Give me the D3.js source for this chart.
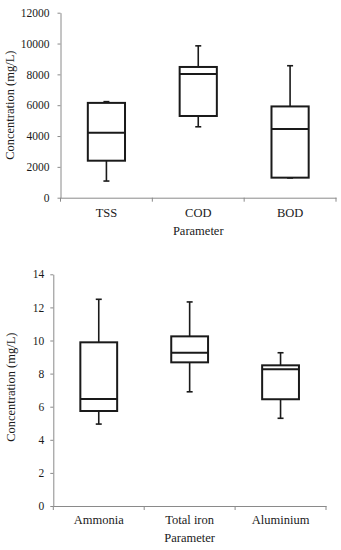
<!DOCTYPE html>
<html>
<head>
<meta charset="utf-8">
<script src="https://cdn.jsdelivr.net/npm/d3@7"></script>
<style>
  html, body { margin: 0; padding: 0; background: #fff; }
  svg text { font-family: "Liberation Serif", "Times New Roman", serif; fill: #1a1a1a; }
</style>
</head>
<body>
<svg id="chart" width="341" height="550"></svg>
<script>
// ---- Top chart data ----
const topCategories = ["TSS", "COD", "BOD"];
const topMin    = [1080, 4600, 1280];
const topQ1     = [2400, 5300, 1300];
const topMedian = [4220, 8020, 4450];
const topQ3     = [6150, 8480, 5920];
const topMax    = [6230, 9850, 8560];
const topTicks  = [0, 2000, 4000, 6000, 8000, 10000, 12000];

// ---- Bottom chart data ----
const botCategories = ["Ammonia", "Total iron", "Aluminium"];
const botMin    = [4.95, 6.9, 5.3];
const botQ1     = [5.74, 8.68, 6.45];
const botMedian = [6.47, 9.26, 8.26];
const botQ3     = [9.89, 10.25, 8.5];
const botMax    = [12.49, 12.33, 9.26];
const botTicks  = [0, 2, 4, 6, 8, 10, 12, 14];

const yLabel = "Concentration (mg/L)";
const xLabel = "Parameter";

const svg = d3.select("#chart");

function drawPanel(cfg) {
  const g = svg.append("g");
  const x = d3.scaleBand().domain(cfg.categories).range([cfg.x0, cfg.x1]).padding(0);
  const y = d3.scaleLinear().domain([cfg.ticks[0], cfg.ticks[cfg.ticks.length - 1]]).range([cfg.y0, cfg.y1]);

  // Y axis
  const yAxis = d3.axisLeft(y).tickValues(cfg.ticks).tickFormat(d3.format("d"))
    .tickSize(3).tickSizeOuter(0).tickPadding(cfg.tickPad);
  const ya = g.append("g").attr("transform", `translate(${cfg.x0},0)`).call(yAxis);
  ya.select(".domain").attr("stroke", "#8a8a8a");
  ya.selectAll(".tick line").attr("stroke", "#8a8a8a");
  ya.selectAll(".tick text").style("font-size", "11.5px").attr("fill", "#1a1a1a");

  // X axis
  const xAxis = d3.axisBottom(x).tickSize(0).tickSizeOuter(0).tickPadding(cfg.xLabelPad);
  const xa = g.append("g").attr("transform", `translate(0,${cfg.y0})`).call(xAxis);
  xa.select(".domain").attr("stroke", "#8a8a8a");
  xa.selectAll(".tick text").style("font-size", "12.5px").attr("fill", "#1a1a1a");
  // boundary ticks
  const bounds = cfg.categories.map(c => x(c)).concat([x.range()[1]]);
  xa.selectAll(".btick").data(bounds).enter().append("line")
    .attr("x1", d => d).attr("x2", d => d).attr("y1", 0).attr("y2", 4)
    .attr("stroke", "#8a8a8a");

  // Boxes
  const bw = x.bandwidth() * 0.405;
  const cap = 6;
  const data = cfg.categories.map((c, i) => ({
    c, min: cfg.min[i], q1: cfg.q1[i], med: cfg.med[i], q3: cfg.q3[i], max: cfg.max[i]
  }));
  const bx = g.selectAll(".box").data(data).enter().append("g")
    .attr("transform", d => `translate(${x(d.c) + x.bandwidth() / 2},0)`);

  // whiskers
  bx.append("line").attr("x1", 0).attr("x2", 0)
    .attr("y1", d => y(d.q3)).attr("y2", d => y(d.max))
    .attr("stroke", "#1a1a1a").attr("stroke-width", 1.6);
  bx.append("line").attr("x1", 0).attr("x2", 0)
    .attr("y1", d => y(d.q1)).attr("y2", d => y(d.min))
    .attr("stroke", "#1a1a1a").attr("stroke-width", 1.6);
  bx.append("line").attr("x1", -cap / 2).attr("x2", cap / 2)
    .attr("y1", d => y(d.max)).attr("y2", d => y(d.max))
    .attr("stroke", "#1a1a1a").attr("stroke-width", 1.6);
  bx.append("line").attr("x1", -cap / 2).attr("x2", cap / 2)
    .attr("y1", d => y(d.min)).attr("y2", d => y(d.min))
    .attr("stroke", "#1a1a1a").attr("stroke-width", 1.6);

  // box
  bx.append("rect")
    .attr("x", -bw / 2).attr("width", bw)
    .attr("y", d => y(d.q3)).attr("height", d => y(d.q1) - y(d.q3))
    .attr("fill", "#fff").attr("stroke", "#1a1a1a").attr("stroke-width", 2);
  // median
  bx.append("line").attr("x1", -bw / 2).attr("x2", bw / 2)
    .attr("y1", d => y(d.med)).attr("y2", d => y(d.med))
    .attr("stroke", "#1a1a1a").attr("stroke-width", 2);

  // Axis titles
  g.append("text")
    .attr("transform", `translate(${cfg.yTitleX},${(cfg.y0 + cfg.y1) / 2 + cfg.yTitleShift}) rotate(-90)`)
    .attr("text-anchor", "middle").attr("dominant-baseline", "middle")
    .style("font-size", "12.5px").text(yLabel);
  g.append("text")
    .attr("x", (cfg.x0 + cfg.x1) / 2).attr("y", cfg.xTitleY)
    .attr("text-anchor", "middle").attr("dominant-baseline", "middle")
    .style("font-size", "12.5px").text(xLabel);
}

drawPanel({
  categories: topCategories, min: topMin, q1: topQ1, med: topMedian, q3: topQ3, max: topMax,
  ticks: topTicks, x0: 60.5, x1: 336, y0: 197.7, y1: 12.7, tickPad: 8,
  xLabelPad: 10, yTitleX: 11, yTitleShift: 0, xTitleY: 232.5
});

drawPanel({
  categories: botCategories, min: botMin, q1: botQ1, med: botMedian, q3: botQ3, max: botMax,
  ticks: botTicks, x0: 53.3, x1: 326, y0: 506, y1: 274.3, tickPad: 6,
  xLabelPad: 9, yTitleX: 12, yTitleShift: -3, xTitleY: 539
});
</script>
</body>
</html>
